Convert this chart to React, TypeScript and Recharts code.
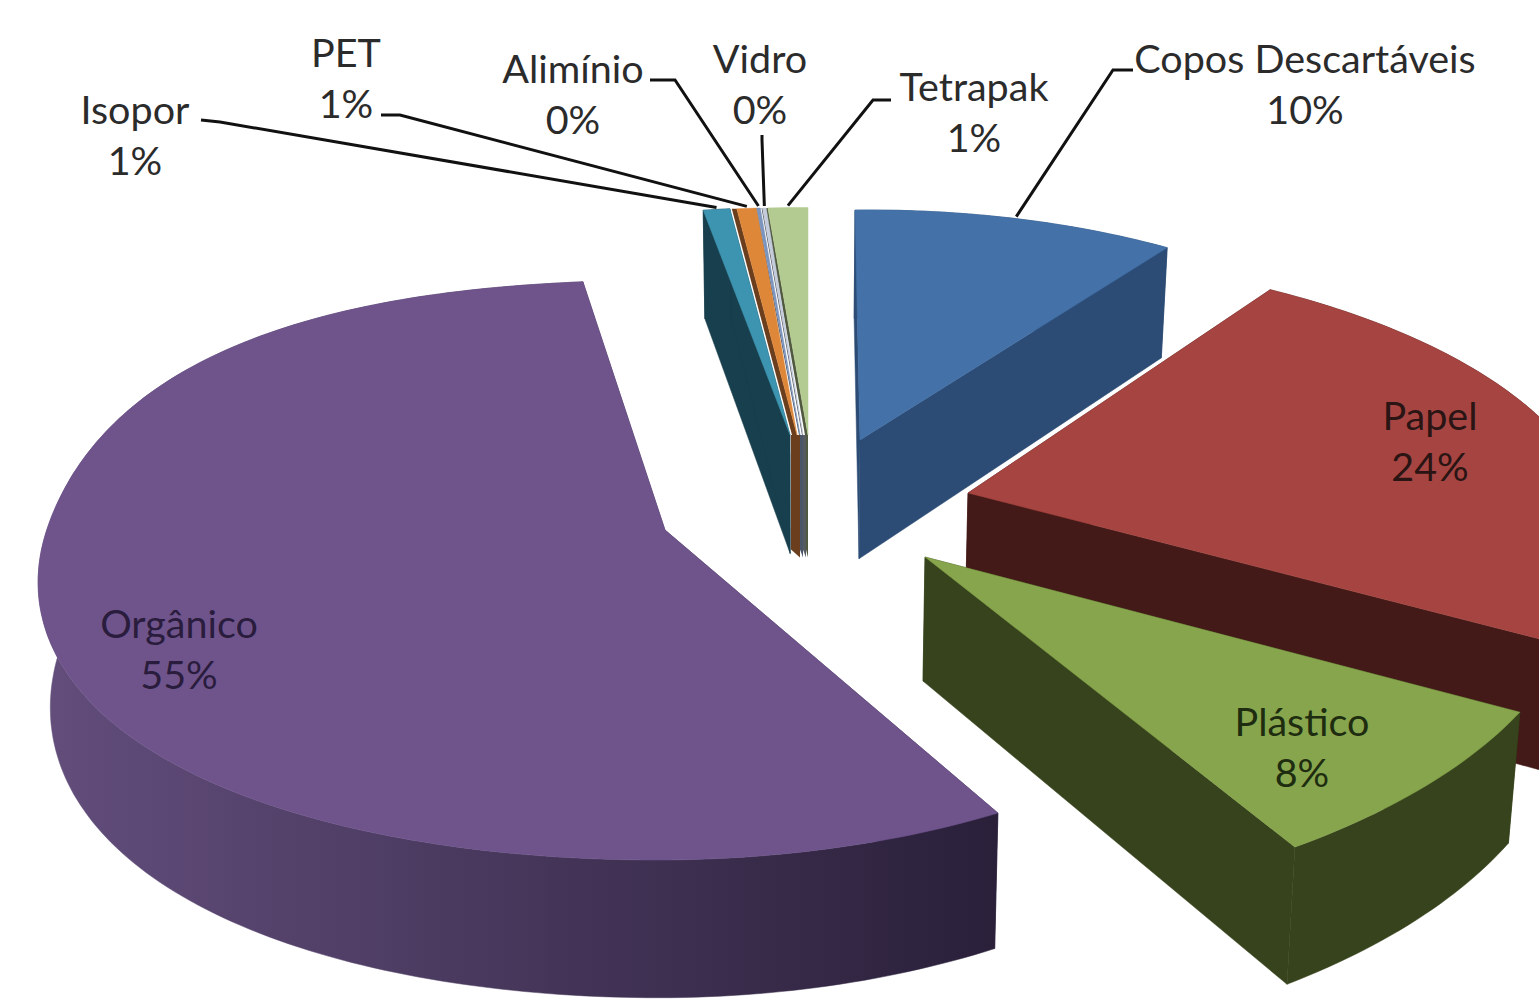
import React from "react";
import { PieChart, Pie } from "recharts";

const categories = [
    "Copos Descartáveis",
    "Papel",
    "Plástico",
    "Orgânico",
    "Isopor",
    "PET",
    "Alimínio",
    "Vidro",
    "Tetrapak",
];
const values = [10.2, 24, 7.75, 55.45, 0.8, 0.6, 0.1, 0.1, 1.0];
const topColors = ["#4371A8", "#A64441", "#87A54C", "#6F548C", "#3D94B0", "#DE8739", "#7C95BE", "#C4CCDC", "#B3CB91"];
const wallColors = ["#2C4C75", "#431A17", "#37431C", "url(#organicWall)", "#183F4D", "#6B3F1E", "#4A5568", "#555A60", "#50583F"];

// where each exploded slice sits and how the 3D view bends it: apex, scale, shear, skew
const placement = [
    { x: 860, y: 440, sx: 0.954, sy: 0.92, shear: -5.8, skew: -0.011, bulge: 0 },
    { x: 968, y: 493, sx: 1.023, sy: 0.961, shear: -44.6, skew: -0.0197, bulge: 0 },
    { x: 925, y: 557, sx: 1.07, sy: 1.085, shear: -12.8, skew: -0.0458, bulge: 0 },
    { x: 665, y: 530, sx: 1.02, sy: 1.0, shear: 8, skew: 0, bulge: 0.045 },
    { x: 790, y: 435, sx: 1.0, sy: 0.91, shear: 0, skew: 0, bulge: 0 },
    { x: 797, y: 435, sx: 1.0, sy: 0.91, shear: 0, skew: 0, bulge: 0 },
    { x: 800, y: 435, sx: 1.08, sy: 0.91, shear: 0, skew: 0, bulge: 0 },
    { x: 803, y: 435, sx: 1.1, sy: 0.91, shear: 0, skew: 0, bulge: 0 },
    { x: 808, y: 435, sx: 1.2, sy: 0.91, shear: 0, skew: 0, bulge: 0 },
];

// the tiny slices only show a sliver of wall beside the top and a strip under the apex
const sliverWidth = [0, 0, 0, 0, 0, 5, 1, 1, 3];
const stripEnd = [0, 0, 0, 0, 0, 800, 803, 806, 808];
const stripStart = [0, 0, 0, 0, 0, 791, 800, 803, 806];

// text anchor of the name line, then start and elbow of the leader line
const labelSpots = [
    { x: 1305, y: 73, line: [1133, 70, 1113, 70] },
    { x: 1430, y: 430 },
    { x: 1302, y: 736 },
    { x: 179, y: 638 },
    { x: 135, y: 124, line: [201, 120, 220, 122] },
    { x: 346, y: 67, line: [381, 115, 400, 115] },
    { x: 573, y: 83, line: [650, 80, 675, 80] },
    { x: 760, y: 73, line: [762, 135, 762, 140] },
    { x: 974, y: 101, line: [891, 100, 873, 100] },
];

const total = values.reduce((a, b) => a + b, 0);
const chartData = categories.map((name, i) => ({ name, value: values[i] }));

const RX = 612;
const RY = 290;
const BOOST = 0.138;

// angle is the recharts one, counter clockwise from 3 o'clock
function project(angle: number, i: number) {
    const p = placement[i];
    const t = ((90 - angle) * Math.PI) / 180;
    const u = Math.sin(t);
    const v = Math.cos(t);
    const d = 1 + BOOST * v;
    // the left side of the big slice is rounder than a true ellipse
    let swell = 1;
    if (u < 0) swell = 1 + (v > 0 ? p.bulge : p.bulge * 0.5) * Math.sin(2 * t) ** 2;
    const up = ((u * Math.sqrt(1 - BOOST * BOOST)) / d) * swell;
    const depth = ((v + BOOST) / d - BOOST) * swell;
    const dx = RX * p.sx * up + p.shear * depth;
    const dy = -RY * p.sy * depth + p.skew * dx;
    return [p.x + dx, p.y + dy];
}

function drop(pt: number[]) {
    const [x, y] = pt;
    return [x - 0.016 * (x - 800), y + 108 + (y - 200) * 0.045];
}

function toPath(points: number[][]) {
    return "M" + points.map((q) => q[0].toFixed(1) + " " + q[1].toFixed(1)).join("L") + "Z";
}

function rimOf(props: any, i: number) {
    const { startAngle, endAngle } = props;
    const steps = Math.max(2, Math.ceil(Math.abs(endAngle - startAngle)));
    const rim: number[][] = [];
    for (let s = 0; s <= steps; s++) {
        rim.push(project(startAngle + ((endAngle - startAngle) * s) / steps, i));
    }
    return rim;
}

function renderWall(props: any) {
    const i = props.index ?? categories.indexOf(props.name);
    const rim = rimOf(props, i);
    const apex = [placement[i].x, placement[i].y];
    const wall = wallColors[i];
    const first = rim[0];
    const last = rim[rim.length - 1];
    if (i > 4) {
        const low = drop(apex)[1] + 4;
        return (
            <g>
                <path d={toPath([apex, first, [first[0] - sliverWidth[i], first[1]], [apex[0] - sliverWidth[i], apex[1]]])} fill={wall} />
                <path d={toPath([[stripStart[i], apex[1]], [stripEnd[i], apex[1]], [stripEnd[i], low], [stripStart[i], low - 8]])} fill={wall} />
            </g>
        );
    }
    const sideColor = i === 3 ? "#3A2D4C" : wall;
    return (
        <g>
            <path d={toPath([apex, first, drop(first), drop(apex)])} fill={sideColor} stroke={sideColor} strokeWidth={0.5} />
            <path d={toPath([apex, last, drop(last), drop(apex)])} fill={sideColor} stroke={sideColor} strokeWidth={0.5} />
            <path d={toPath([...rim, ...rim.map(drop).reverse()])} fill={wall} stroke={wall} strokeWidth={0.5} />
        </g>
    );
}

function renderTop(props: any) {
    const i = props.index ?? categories.indexOf(props.name);
    const apex = [placement[i].x, placement[i].y];
    return <path d={toPath([apex, ...rimOf(props, i)])} fill={topColors[i]} stroke={topColors[i]} strokeWidth={0.5} />;
}

function renderLabel(props: any) {
    const i = props.index;
    const spot = labelSpots[i];
    const mid = (props.startAngle + props.endAngle) / 2;
    const end = project(mid, i);
    const pct = Math.round((values[i] / total) * 100) + "%";
    const textColor = i === 3 ? "#2A1C3C" : i === 2 ? "#1E2C10" : i === 1 ? "#2A1414" : "#2B2B2B";
    return (
        <g>
            {spot.line && (
                <polyline
                    points={`${spot.line[0]},${spot.line[1]} ${spot.line[2]},${spot.line[3]} ${end[0]},${end[1] - 2}`}
                    fill="none"
                    stroke="#111111"
                    strokeWidth={3}
                />
            )}
            <text x={spot.x} y={spot.y} textAnchor="middle" fontFamily="Lato" fontSize={39.5} fill={textColor}>
                {categories[i]}
            </text>
            <text x={spot.x} y={spot.y + 51} textAnchor="middle" fontFamily="Lato" fontSize={39.5} fill={textColor}>
                {pct}
            </text>
        </g>
    );
}

const pieProps = {
    data: chartData,
    dataKey: "value",
    nameKey: "name",
    cx: 770,
    cy: 500,
    outerRadius: 300,
    startAngle: 90,
    endAngle: -270,
    stroke: "none",
};

export default function App() {
    return (
        <div style={{ position: "absolute", left: 0, top: 0, width: 1539, height: 1001, background: "#ffffff" }}>
            <PieChart width={1539} height={1001} margin={{ top: 0, bottom: 0, left: 0, right: 0 }}>
                <defs>
                    <linearGradient id="organicWall" gradientUnits="userSpaceOnUse" x1={50} y1={0} x2={995} y2={0}>
                        <stop offset="0%" stopColor="#624D7B" />
                        <stop offset="100%" stopColor="#2A203A" />
                    </linearGradient>
                </defs>
                <Pie {...pieProps} isAnimationActive={false} shape={renderWall} label={false} labelLine={false} />
                <Pie {...pieProps} isAnimationActive={false} shape={renderTop} label={renderLabel} labelLine={false} />
            </PieChart>
        </div>
    );
}
